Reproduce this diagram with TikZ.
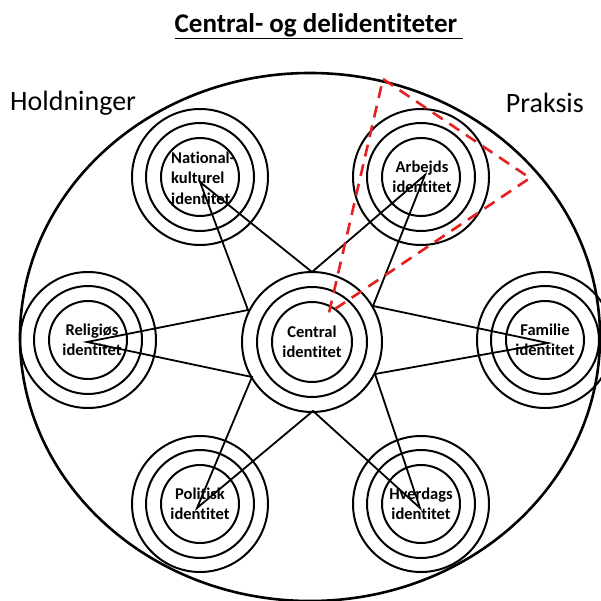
\documentclass[tikz,border=0pt]{standalone}
\usepackage{fontspec}
\setmainfont{Carlito}[Ligatures=NoCommon]
\definecolor{dashred}{RGB}{228,32,32}
\begin{document}
\begin{tikzpicture}[x=1pt,y=-1pt,
  ring/.style={draw=black,line width=2pt,circle,minimum size=#1,inner sep=0pt},
  lbl/.style={font=\fontsize{16.5}{20.5}\selectfont\bfseries,align=center,inner sep=0pt},
  side/.style={font=\fontsize{28}{30}\selectfont,inner sep=0pt},
  starline/.style={line width=1.8pt,line join=miter},
  redtri/.style={draw=dashred,line width=2.6pt,dash pattern=on 12pt off 8pt}]
\useasboundingbox (0,0) rectangle (600,601);
% title and side labels
\node[font=\fontsize{27}{30}\selectfont\bfseries,inner sep=0pt] (title) at (319,26) {\underline{Central- og delidentiteter\ }};
\node[side,anchor=west] (hold) at (10,103) {Holdninger};
\node[side,anchor=east] (prak) at (584,103) {Praksis};
% outer ellipse
\draw[line width=2.6pt] (310,337) ellipse [x radius=290, y radius=264];
% rings
\foreach \n/\x/\y in {nat/200/177, arb/421/177, rel/88/340, fam/545/340, pol/200/504, hve/421/504}{
  \node[ring=78pt] (\n1) at (\x,\y) {};
  \node[ring=108pt] (\n2) at (\x,\y) {};
  \node[ring=136pt] (\n3) at (\x,\y) {};
}
\node[ring=80pt] (cen1) at (312,342) {};
\node[ring=110pt] (cen2) at (312,342) {};
\node[ring=140pt] (cen3) at (312,342) {};
% star points
\coordinate (pNat) at (200,182);
\coordinate (pArb) at (425,175);
\coordinate (pRel) at (87,342);
\coordinate (pFam) at (548,343);
\coordinate (pPol) at (197,508);
\coordinate (pHve) at (420,508);
\coordinate (vT) at (312,272);
\coordinate (vUR) at (373,306);
\coordinate (vLR) at (375,374);
\coordinate (vB) at (313,411);
\coordinate (vLL) at (252,377);
\coordinate (vUL) at (248,310);
\draw[starline] (pNat) -- (vT) -- (pArb) -- (vUR) -- (pFam) -- (vLR) -- (pHve) -- (vB) -- (pPol) -- (vLL) -- (pRel) -- (vUL) -- cycle;
% labels
\node[lbl,align=left] (natlbl) at (203,178) {National-\\kulturel\\identitet};
\node[lbl] (arblbl) at (422,177) {Arbejds\\identitet};
\node[lbl] (rellbl) at (92,340) {Religiøs\\identitet};
\node[lbl] (famlbl) at (545,340) {Familie\\identitet};
\node[lbl] (cenlbl) at (312,342) {Central\\identitet};
\node[lbl] (pollbl) at (200,504) {Politisk\\identitet};
\node[lbl] (hvelbl) at (421,504) {Hverdags\\identitet};
% red dashed triangle
\coordinate (rT) at (383,79);
\coordinate (rR) at (530,178);
\coordinate (rB) at (329,313);
\draw[redtri] (rT) -- (rR) -- (rB) -- cycle;
\end{tikzpicture}
\end{document}
